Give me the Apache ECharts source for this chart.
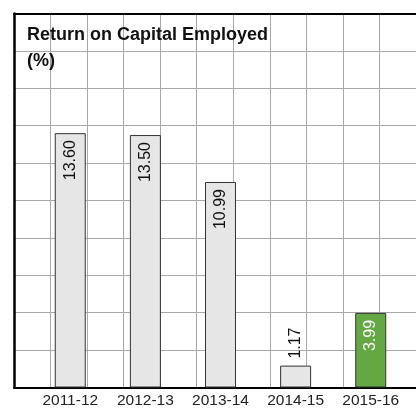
<!DOCTYPE html>
<html>
<head>
<meta charset="utf-8">
<script src="https://cdn.jsdelivr.net/npm/echarts@6/dist/echarts.min.js"></script>
<style>
  html, body { margin: 0; padding: 0; background: #fff; }
  #main { width: 416px; height: 412px; }
</style>
</head>
<body>
<div id="main"></div>
<script>
// data
var years = ['2011-12', '2012-13', '2013-14', '2014-15', '2015-16'];
var roce = [13.60, 13.50, 10.99, 1.17, 3.99];
var highlightYear = '2015-16';

var chart = echarts.init(document.getElementById('main'));

var font = 'Liberation Sans, Arial, Helvetica, sans-serif';
var gridColor = '#a8a8a8';

// bar items: latest year in green, short bars get their label above
var barData = roce.map(function (v, i) {
    var hi = years[i] === highlightYear;
    var small = v < 2;
    return {
        value: v,
        itemStyle: { color: hi ? '#64a844' : '#e6e6e6' },
        label: small ? {
            position: 'top', align: 'left', verticalAlign: 'middle', distance: 7, color: '#111'
        } : {
            position: 'insideTop', align: 'right', verticalAlign: 'middle', distance: 7,
            color: hi ? '#fff' : '#111'
        }
    };
});

var option = {
    animation: false,
    title: {
        text: 'Return on Capital Employed\n(%)',
        left: 27,
        top: 22,
        padding: 0,
        textStyle: { fontFamily: font, fontWeight: 'bold', fontSize: 18, lineHeight: 26, color: '#111' }
    },
    grid: [
        // background squares + frame
        { left: 14, top: 13.5, width: 413.2, height: 374, containLabel: false },
        // bars
        { left: 32.7, top: 13.5, width: 375.6, height: 374, containLabel: false }
    ],
    xAxis: [
        {
            gridIndex: 0, type: 'value', min: 0, max: 11, interval: 1,
            axisLine: { show: true, onZero: false, lineStyle: { color: '#000', width: 2 } },
            axisTick: { show: false }, axisLabel: { show: false },
            splitLine: { show: true, lineStyle: { color: gridColor, width: 1 } }
        },
        {
            gridIndex: 0, type: 'value', position: 'top', min: 0, max: 11, interval: 1,
            axisLine: { show: true, onZero: false, lineStyle: { color: '#000', width: 2 } },
            axisTick: { show: false }, axisLabel: { show: false }, splitLine: { show: false }
        },
        {
            gridIndex: 1, type: 'category', data: years,
            axisLine: { show: false }, axisTick: { show: false },
            axisLabel: { interval: 0, hideOverlap: false, margin: 5, fontFamily: font, fontSize: 15.5, color: '#222' }
        }
    ],
    yAxis: [
        {
            gridIndex: 0, type: 'value', min: 0, max: 20, interval: 2,
            axisLine: { show: true, onZero: false, lineStyle: { color: '#000', width: 2.5 } },
            axisTick: { show: false }, axisLabel: { show: false },
            splitLine: { show: true, lineStyle: { color: gridColor, width: 1 } }
        },
        {
            gridIndex: 1, type: 'value', min: 0, max: 20, show: false
        }
    ],
    series: [
        {
            type: 'bar',
            xAxisIndex: 2,
            yAxisIndex: 1,
            barWidth: 31,
            data: barData,
            itemStyle: { borderColor: '#333', borderWidth: 1 },
            label: {
                show: true,
                rotate: 90,
                fontFamily: font,
                fontSize: 16,
                formatter: function (p) { return p.value.toFixed(2); }
            }
        }
    ]
};

chart.setOption(option);
</script>
</body>
</html>
